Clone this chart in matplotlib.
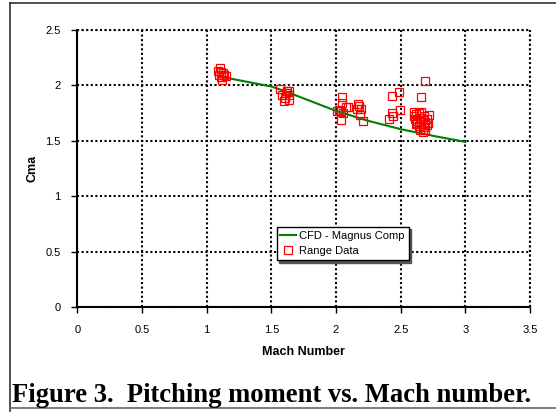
import matplotlib
matplotlib.use('Agg')
import matplotlib.pyplot as plt
from matplotlib.lines import Line2D

plt.rcParams['font.family'] = ['Liberation Sans', 'DejaVu Sans']

# CFD prediction (Magnus comp)
cfd_mach = [1.1, 1.5, 1.6, 2.0, 2.25, 2.5, 2.75, 3.0]
cfd_cma = [2.08, 1.99, 1.95, 1.77, 1.68, 1.605, 1.545, 1.49]

# range data
range_mach = [1.10, 1.113, 1.093, 1.134, 1.152, 1.108, 1.125, 1.09, 1.116,
              1.563, 1.58, 1.594, 1.615, 1.635, 1.635, 1.604, 1.64, 1.62,
              2.044, 2.044, 2.005, 2.04, 2.078, 2.09, 2.052, 2.04, 2.02,
              2.168, 2.18, 2.16, 2.193, 2.188, 2.211,
              2.69, 2.49, 2.43, 2.659, 2.497, 2.43, 2.443, 2.407,
              2.60, 2.62, 2.64, 2.66, 2.68, 2.61, 2.63, 2.65, 2.67, 2.69,
              2.70, 2.62, 2.64, 2.66, 2.68, 2.70, 2.71, 2.65, 2.67, 2.69,
              2.60, 2.72, 2.63]
range_cma = [2.155, 2.125, 2.095, 2.095, 2.086, 2.075, 2.11, 2.13, 2.05,
             1.97, 1.915, 1.855, 1.93, 1.945, 1.87, 1.886, 1.91, 1.95,
             1.895, 1.84, 1.765, 1.765, 1.805, 1.805, 1.75, 1.69, 1.78,
             1.835, 1.81, 1.787, 1.787, 1.736, 1.675,
             2.04, 1.94, 1.90, 1.895, 1.78, 1.75, 1.72, 1.697,
             1.76, 1.74, 1.75, 1.76, 1.72, 1.70, 1.68, 1.71, 1.69, 1.67,
             1.70, 1.65, 1.63, 1.65, 1.62, 1.64, 1.66, 1.60, 1.58, 1.60,
             1.72, 1.73, 1.66]

fig = plt.figure(figsize=(5.56, 4.12), dpi=100)
ax = fig.add_axes([0.1392, 0.2549, 0.8140, 0.6723])

ax.plot(cfd_mach, cfd_cma, color='#008000', lw=1.5, label='CFD - Magnus Comp', zorder=3)
ax.plot(range_mach, range_cma, ls='none', marker='s', ms=5.3, mfc='none',
        mec='#ff0000', mew=0.9, label='Range Data', zorder=4)

ax.set_xlim(0, 3.5)
ax.set_ylim(0, 2.5)
ax.set_xticks([0, 0.5, 1, 1.5, 2, 2.5, 3, 3.5])
ax.set_xticklabels(['0', '0.5', '1', '1.5', '2', '2.5', '3', '3.5'])
ax.set_yticks([0, 0.5, 1, 1.5, 2, 2.5])
ax.set_yticklabels(['0', '0.5', '1', '1.5', '2', '2.5'])
ax.grid(True, color='black', ls=(0, (1, 1.2)), lw=1.5)
ax.set_axisbelow(True)
for s in ['top', 'right']:
    ax.spines[s].set_visible(False)
for s in ['left', 'bottom']:
    ax.spines[s].set_linewidth(1.5)
ax.tick_params(length=4, width=1, labelsize=8, pad=8)
ax.tick_params(axis='x', pad=9)
# dotted lines standing for the top and right border
ax.axhline(2.5, color='black', ls=(0, (1, 1.2)), lw=1.5, clip_on=False)
ax.axvline(3.5, color='black', ls=(0, (1, 1.2)), lw=1.5, clip_on=False)

ax.set_xlabel('Mach Number', fontsize=9, fontweight='bold', labelpad=8)
ax.set_ylabel('Cma', fontsize=9, fontweight='bold', labelpad=5)

leg = ax.legend(loc='upper left', bbox_to_anchor=(0.44, 0.29), fontsize=8,
                frameon=True, fancybox=False, shadow={'color': '#555555', 'alpha': 1},
                edgecolor='black', framealpha=1, handlelength=1.4, handletextpad=0.3,
                borderpad=0.35, labelspacing=0.5, borderaxespad=0)
leg.get_frame().set_linewidth(1)

# page frame and caption
fig.add_artist(Line2D([0.0173, 0.0173], [0.003, 0.993], transform=fig.transFigure,
                      color='#333333', lw=1.2))
fig.add_artist(Line2D([0.0173, 1.0], [0.993, 0.993], transform=fig.transFigure,
                      color='#333333', lw=1.2))
fig.add_artist(Line2D([0.0173, 1.0], [0.009, 0.009], transform=fig.transFigure,
                      color='#666666', lw=1.2))
fig.text(0.022, 0.024, 'Figure 3.  Pitching moment vs. Mach number.',
         family='Liberation Serif', fontsize=19.2, fontweight='bold', va='baseline')

fig.savefig('out.png', dpi=100)
